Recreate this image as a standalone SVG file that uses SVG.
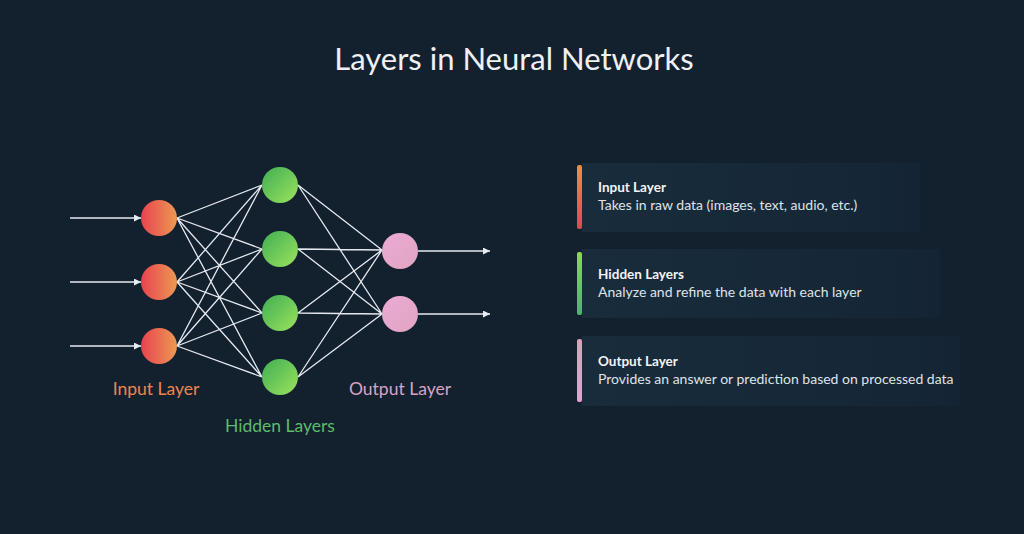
<svg xmlns="http://www.w3.org/2000/svg" width="1024" height="534" viewBox="0 0 1024 534">
<defs>
<linearGradient id="gIn" x1="0" y1="0" x2="1" y2="0"><stop offset="0" stop-color="#e8424f"/><stop offset="1" stop-color="#eb9a52"/></linearGradient>
<linearGradient id="gHid" x1="0" y1="0" x2="1" y2="1"><stop offset="0" stop-color="#3fae54"/><stop offset="1" stop-color="#9be35c"/></linearGradient>
<linearGradient id="gOut" x1="0" y1="0" x2="1" y2="1"><stop offset="0" stop-color="#ecaad6"/><stop offset="1" stop-color="#e0a5bf"/></linearGradient>
<linearGradient id="bIn" x1="0" y1="0" x2="0" y2="1"><stop offset="0" stop-color="#eb9142"/><stop offset="1" stop-color="#e2474f"/></linearGradient>
<linearGradient id="bHid" x1="0" y1="0" x2="0" y2="1"><stop offset="0" stop-color="#8fd850"/><stop offset="1" stop-color="#45b66a"/></linearGradient>
<linearGradient id="bOut" x1="0" y1="0" x2="0" y2="1"><stop offset="0" stop-color="#d9a2b8"/><stop offset="1" stop-color="#e79fd3"/></linearGradient>
<linearGradient id="card" x1="0" y1="0" x2="1" y2="0"><stop offset="0" stop-color="#182c3b"/><stop offset="0.7" stop-color="#162838"/><stop offset="1" stop-color="#142434"/></linearGradient>
<marker id="arr" viewBox="0 0 10 10" refX="10" refY="5" markerWidth="7" markerHeight="7" markerUnits="userSpaceOnUse" orient="auto"><path d="M0,0 L10,5 L0,10 Z" fill="#e8ecf2"/></marker>
</defs>
<style>
.ln{stroke:#e6eaf0;stroke-width:1.3;fill:none}
.ar{stroke:#e6eaf0;stroke-width:1.6;fill:none}
.t{font-family:Lato,"Open Sans",sans-serif}
.h{font-weight:bold;font-size:13.5px;fill:#f2f4f7}
.d{font-size:14px;fill:#dfe3e8}
</style>
<rect width="1024" height="534" fill="#13212f"/>
<text class="t" x="514" y="70" text-anchor="middle" font-size="31" fill="#eef0f4">Layers in Neural Networks</text>
<g id="connectors">
<line class="ar" x1="70" y1="218" x2="141" y2="218" marker-end="url(#arr)"/>
<line class="ar" x1="70" y1="282" x2="141" y2="282" marker-end="url(#arr)"/>
<line class="ar" x1="70" y1="346" x2="141" y2="346" marker-end="url(#arr)"/>
<path class="ln" d="M177,218 L262,185 M177,218 L262,249 M177,218 L262,313 M177,218 L262,377 M177,282 L262,185 M177,282 L262,249 M177,282 L262,313 M177,282 L262,377 M177,346 L262,185 M177,346 L262,249 M177,346 L262,313 M177,346 L262,377"/>
<path class="ln" d="M298,185 L382,250 M298,185 L382,314 M298,249 L382,250 M298,249 L382,314 M298,313 L382,250 M298,313 L382,314 M298,377 L382,250 M298,377 L382,314"/>
<line class="ar" x1="418" y1="251" x2="490" y2="251" marker-end="url(#arr)"/>
<line class="ar" x1="418" y1="314" x2="490" y2="314" marker-end="url(#arr)"/>
</g>
<g id="input-layer">
<circle cx="159" cy="218" r="18" fill="url(#gIn)"/>
<circle cx="159" cy="282" r="18" fill="url(#gIn)"/>
<circle cx="159" cy="346" r="18" fill="url(#gIn)"/>
<text class="t" x="156" y="395" text-anchor="middle" font-size="17.5" fill="#e98650">Input Layer</text>
</g>
<g id="hidden-layers">
<circle cx="280" cy="185" r="18" fill="url(#gHid)"/>
<circle cx="280" cy="249" r="18" fill="url(#gHid)"/>
<circle cx="280" cy="313" r="18" fill="url(#gHid)"/>
<circle cx="280" cy="377" r="18" fill="url(#gHid)"/>
<text class="t" x="280" y="432" text-anchor="middle" font-size="17.5" fill="#5dbb6c">Hidden Layers</text>
</g>
<g id="output-layer">
<circle cx="400" cy="251" r="18" fill="url(#gOut)"/>
<circle cx="400" cy="314" r="18" fill="url(#gOut)"/>
<text class="t" x="400" y="395" text-anchor="middle" font-size="17.5" fill="#d8a3c6">Output Layer</text>
</g>
<g id="card-input">
<rect x="582" y="163" width="338" height="69" fill="url(#card)"/>
<rect x="577" y="165" width="5" height="64" rx="2" fill="url(#bIn)"/>
<text class="t h" x="598" y="192">Input Layer</text>
<text class="t d" x="598" y="210">Takes in raw data (images, text, audio, etc.)</text>
</g>
<g id="card-hidden">
<rect x="582" y="249" width="358" height="69" fill="url(#card)"/>
<rect x="577" y="252" width="5" height="63" rx="2" fill="url(#bHid)"/>
<text class="t h" x="598" y="279">Hidden Layers</text>
<text class="t d" x="598" y="297">Analyze and refine the data with each layer</text>
</g>
<g id="card-output">
<rect x="582" y="336" width="378" height="70" fill="url(#card)"/>
<rect x="577" y="339" width="5" height="63" rx="2" fill="url(#bOut)"/>
<text class="t h" x="598" y="366">Output Layer</text>
<text class="t d" x="598" y="384">Provides an answer or prediction based on processed data</text>
</g>
</svg>
